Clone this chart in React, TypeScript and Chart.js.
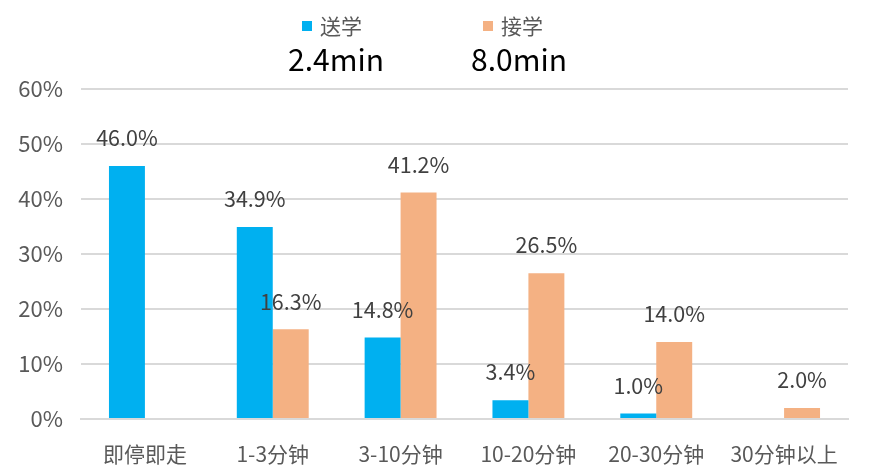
import { useEffect, useRef } from 'react';
import { Chart, registerables, type Plugin } from 'chart.js';

Chart.register(...registerables);

const categories = ['即停即走', '1-3分钟', '3-10分钟', '10-20分钟', '20-30分钟', '30分钟以上'];
const dropOff = [46.0, 34.9, 14.8, 3.4, 1.0, null];
const pickUp = [null, 16.3, 41.2, 26.5, 14.0, 2.0];
const seriesNames = ['送学', '接学'];
const avgTimes = ['2.4min', '8.0min'];
const yTicks = [0, 10, 20, 30, 40, 50, 60];

const BLUE = '#00B0F0';
const ORANGE = '#F4B183';
const FONT = '"Noto Sans CJK SC", "Noto Sans", sans-serif';

// value labels above bars
const valueLabels: Plugin<'bar'> = {
    id: 'valueLabels',
    afterDatasetsDraw(chart) {
        const ctx = chart.ctx;
        ctx.save();
        ctx.font = `21.5px ${FONT}`;
        ctx.fillStyle = '#404040';
        ctx.textAlign = 'center';
        ctx.textBaseline = 'middle';
        chart.data.datasets.forEach((ds, di) => {
            chart.getDatasetMeta(di).data.forEach((bar, i) => {
                const v = ds.data[i] as number | null;
                if (v == null) return;
                ctx.fillText(v.toFixed(1) + '%', bar.x, bar.y - 28);
            });
        });
        ctx.restore();
    },
};

// legend with average time under each entry
const topLegend: Plugin<'bar'> = {
    id: 'topLegend',
    afterDraw(chart) {
        const ctx = chart.ctx;
        const items = [
            { x: 302, center: 336, color: BLUE },
            { x: 483, center: 519, color: ORANGE },
        ];
        ctx.save();
        items.forEach((it, i) => {
            ctx.fillStyle = it.color;
            ctx.fillRect(it.x, 21, 10, 10);
            ctx.fillStyle = '#595959';
            ctx.font = `21px ${FONT}`;
            ctx.textAlign = 'left';
            ctx.textBaseline = 'middle';
            ctx.fillText(seriesNames[i], it.x + 18, 26);
            ctx.fillStyle = '#000000';
            ctx.font = `30px ${FONT}`;
            ctx.textAlign = 'center';
            ctx.fillText(avgTimes[i], it.center, 60);
        });
        ctx.restore();
    },
};

export default function App() {
    const canvasRef = useRef<HTMLCanvasElement>(null);

    useEffect(() => {
        if (!canvasRef.current) return;
        const chart = new Chart(canvasRef.current, {
            type: 'bar',
            data: {
                labels: categories,
                datasets: [
                    { label: seriesNames[0], data: dropOff, backgroundColor: BLUE },
                    { label: seriesNames[1], data: pickUp, backgroundColor: ORANGE },
                ],
            },
            options: {
                animation: false,
                responsive: false,
                layout: { padding: { top: 89, right: 23, left: 0, bottom: 0 } },
                datasets: { bar: { categoryPercentage: 0.5625, barPercentage: 1 } },
                plugins: {
                    legend: { display: false },
                    tooltip: { enabled: false },
                },
                scales: {
                    x: {
                        grid: { display: false, drawTicks: false },
                        border: { display: true, color: '#d9d9d9', width: 2 },
                        ticks: { color: '#595959', font: { size: 21, family: FONT }, padding: 22 },
                        afterFit: (s) => { s.height = 53; },
                    },
                    y: {
                        min: 0,
                        max: 60,
                        afterBuildTicks: (s) => { s.ticks = yTicks.map((v) => ({ value: v })); },
                        grid: { color: '#d9d9d9', lineWidth: 2, drawTicks: false },
                        border: { display: false },
                        ticks: {
                            color: '#595959',
                            font: { size: 22, family: FONT },
                            padding: 18,
                            callback: (v) => v + '%',
                        },
                        afterFit: (s) => { s.width = 81; },
                    },
                },
            },
            plugins: [valueLabels, topLegend],
        });
        return () => chart.destroy();
    }, []);

    return (
        <div style={{ position: 'fixed', left: 0, top: 0, width: 871, height: 472, background: '#fff' }}>
            <canvas ref={canvasRef} width={871} height={472} />
        </div>
    );
}
